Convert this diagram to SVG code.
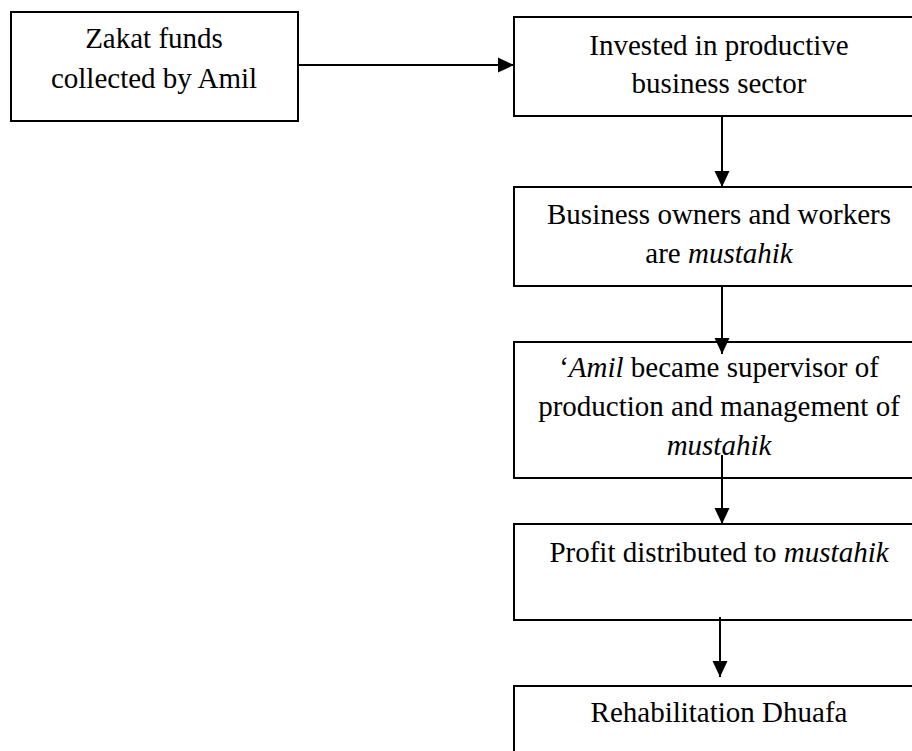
<svg xmlns="http://www.w3.org/2000/svg" width="912" height="751" viewBox="0 0 912 751">
<defs>
<style>
.box{fill:#fff;stroke:#000;stroke-width:2}
.t{font-family:"Liberation Serif","Times New Roman",serif;font-size:29px;fill:#000;text-anchor:middle}
.i{font-style:italic}
.c{fill:none;stroke:#000;stroke-width:2}
</style>
<marker id="ah" markerUnits="userSpaceOnUse" markerWidth="16" markerHeight="16" viewBox="0 0 16 16" refX="16" refY="8" orient="auto">
<path d="M0,0.5 L16,8 L0,15.5 Z" fill="#000"/>
</marker>
</defs>
<rect width="912" height="751" fill="#fff"/>
<g id="n1">
<rect class="box" x="11" y="12" width="287" height="109"/>
<text class="t" x="154" y="48">Zakat funds</text>
<text class="t" x="154" y="88">collected by Amil</text>
</g>
<g id="n2">
<rect class="box" x="514" y="17" width="412" height="99"/>
<text class="t" x="719" y="55">Invested in productive</text>
<text class="t" x="719" y="93">business sector</text>
</g>
<g id="n3">
<rect class="box" x="514" y="187" width="412" height="99"/>
<text class="t" x="719" y="224">Business owners and workers</text>
<text class="t" x="719" y="263">are <tspan class="i">mustahik</tspan></text>
</g>
<g id="n4">
<rect class="box" x="514" y="342" width="412" height="136"/>
<text class="t" x="719" y="377">‘<tspan class="i">Amil</tspan> became supervisor of</text>
<text class="t" x="719" y="416">production and management of</text>
<text class="t i" x="719" y="455">mustahik</text>
</g>
<g id="n5">
<rect class="box" x="514" y="524" width="412" height="96"/>
<text class="t" x="719" y="562">Profit distributed to <tspan class="i">mustahik</tspan></text>
</g>
<g id="n6">
<rect class="box" x="514" y="686" width="412" height="100"/>
<text class="t" x="719" y="722">Rehabilitation Dhuafa</text>
</g>
<g id="connectors">
<path class="c" d="M298,65 H514" marker-end="url(#ah)"/>
<path class="c" d="M722,116 V187" marker-end="url(#ah)"/>
<path class="c" d="M722,286 V354" marker-end="url(#ah)"/>
<path class="c" d="M722,455 V524" marker-end="url(#ah)"/>
<path class="c" d="M720,617 V677" marker-end="url(#ah)"/>
</g>
</svg>
